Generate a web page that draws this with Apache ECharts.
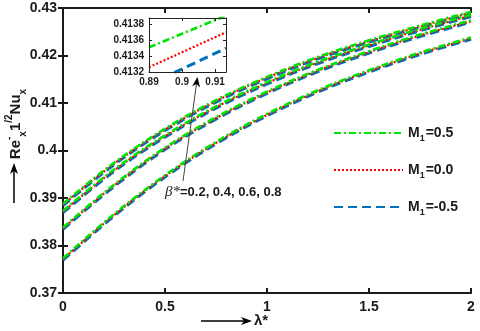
<!DOCTYPE html>
<html><head><meta charset="utf-8">
<script src="https://cdn.jsdelivr.net/npm/echarts@6/dist/echarts.min.js"></script>
<style>html,body{margin:0;padding:0;background:#fff}#c{width:480px;height:331px}</style>
</head><body><div id="c"></div>
<script>
// lambda* values
const X = [0, 0.25, 0.5, 0.75, 1, 1.25, 1.5, 1.75, 2];
const xTicks = [0, 0.5, 1, 1.5, 2];
const yTicks = [0.37, 0.38, 0.39, 0.4, 0.41, 0.42, 0.43];
// beta* = 0.8 (top group)
const b08_pos  = [0.3888, 0.3974, 0.4046, 0.4106, 0.4155, 0.4197, 0.4232, 0.4263, 0.4292];
const b08_zero = [0.3886, 0.3972, 0.4044, 0.4104, 0.4153, 0.4195, 0.4230, 0.4261, 0.4290];
const b08_neg  = [0.3884, 0.3970, 0.4042, 0.4102, 0.4151, 0.4193, 0.4228, 0.4259, 0.4288];
// beta* = 0.6
const b06_pos  = [0.3873, 0.3960, 0.4032, 0.4093, 0.4144, 0.4187, 0.4223, 0.4256, 0.4286];
const b06_zero = [0.3871, 0.3958, 0.4030, 0.4091, 0.4142, 0.4185, 0.4221, 0.4254, 0.4284];
const b06_neg  = [0.3869, 0.3956, 0.4028, 0.4089, 0.4140, 0.4183, 0.4219, 0.4252, 0.4282];
// beta* = 0.4
const b04_pos  = [0.3838, 0.3928, 0.4006, 0.4070, 0.4124, 0.4170, 0.4209, 0.4244, 0.4274];
const b04_zero = [0.3836, 0.3926, 0.4004, 0.4068, 0.4122, 0.4168, 0.4207, 0.4242, 0.4272];
const b04_neg  = [0.3834, 0.3924, 0.4002, 0.4066, 0.4120, 0.4166, 0.4205, 0.4240, 0.4270];
// beta* = 0.2 (bottom group)
const b02_pos  = [0.3773, 0.3866, 0.3948, 0.4018, 0.4077, 0.4127, 0.4169, 0.4206, 0.4238];
const b02_zero = [0.3771, 0.3864, 0.3946, 0.4016, 0.4075, 0.4125, 0.4167, 0.4204, 0.4236];
const b02_neg  = [0.3769, 0.3862, 0.3944, 0.4014, 0.4073, 0.4123, 0.4165, 0.4202, 0.4234];
// inset (zoom near lambda* = 0.9)
const insetX = [0.89, 0.9133];
const inset_pos  = [0.41351, 0.41391];
const inset_zero = [0.41326, 0.41370];
const inset_neg  = [0.41304, 0.41350];
const insetXTicks = [0.89, 0.9, 0.91];
const insetYTicks = [0.4132, 0.4134, 0.4136, 0.4138];

const names = ['M1=0.5', 'M1=0.0', 'M1=-0.5'];
const COL = {pos: '#00e400', zero: '#ff0000', neg: '#0072bd'};
const STY = {
  pos:  {color: COL.pos, width: 2.6, type: [7, 3, 2, 3]},
  zero: {color: COL.zero, width: 2.2, type: [2, 2]},
  neg:  {color: COL.neg, width: 3, type: [9, 5]}
};
const NAME = {pos: names[0], zero: names[1], neg: names[2]};

const F = 'Liberation Sans, Arial, sans-serif';
const series = [];
function addLine(kind, data, xi, yi, xs, z) {
  series.push({
    type: 'line', name: NAME[kind], xAxisIndex: xi, yAxisIndex: yi, z: z,
    data: xs.map((x, i) => [x, data[i]]), smooth: 0.35, symbol: 'none', showSymbol: false,
    lineStyle: Object.assign({}, STY[kind]), itemStyle: {color: STY[kind].color},
    silent: true, animation: false, clip: true
  });
}
const groups = [[b02_pos, b02_zero, b02_neg], [b04_pos, b04_zero, b04_neg], [b06_pos, b06_zero, b06_neg], [b08_pos, b08_zero, b08_neg]];
groups.forEach(g => addLine('neg', g[2], 0, 0, X, 2));
groups.forEach(g => addLine('zero', g[1], 0, 0, X, 3));
groups.forEach(g => addLine('pos', g[0], 0, 0, X, 4));
addLine('neg', inset_neg, 2, 2, insetX, 12);
addLine('zero', inset_zero, 2, 2, insetX, 13);
addLine('pos', inset_pos, 2, 2, insetX, 14);

const axLine = {lineStyle: {color: '#1a1a1a', width: 2}};
const tick = {inside: true, length: 5, lineStyle: {color: '#1a1a1a', width: 2}};
const lbl = {color: '#1a1a1a', fontFamily: F, fontWeight: 'bold', fontSize: 14};
const iLine = {onZero: false, lineStyle: {color: '#222', width: 1}};
const iTick = {inside: true, length: 3, lineStyle: {color: '#222'}};

const option = {
  animation: false,
  backgroundColor: '#fff',
  grid: [
    {left: 63, right: 9, top: 8, bottom: 38},
    {left: 63, right: 9, top: 8, bottom: 38},
    {left: 149, top: 18, width: 77, height: 54, backgroundColor: '#fff', show: true, borderWidth: 0, z: 8}
  ],
  xAxis: [
    {type: 'value', gridIndex: 0, min: 0, max: 2, interval: 0.5, position: 'bottom',
     axisLine: axLine, axisTick: tick, splitLine: {show: false},
     axisLabel: Object.assign({margin: 7, formatter: v => String(+v.toFixed(2))}, lbl)},
    {type: 'value', gridIndex: 1, min: 0, max: 2, interval: 0.5, position: 'top',
     axisLine: axLine, axisTick: tick, splitLine: {show: false}, axisLabel: {show: false}},
    {type: 'value', gridIndex: 2, min: 0.89, max: 0.9133, interval: 0.01, position: 'bottom', z: 15,
     axisLine: iLine, axisTick: iTick, splitLine: {show: false},
     axisLabel: {margin: 5, showMaxLabel: false, color: '#1a1a1a', fontFamily: F, fontWeight: 'bold', fontSize: 10,
       formatter: v => String(+v.toFixed(2))}},
    {type: 'value', gridIndex: 2, min: 0.89, max: 0.9133, interval: 0.01, position: 'top', z: 15,
     axisLine: iLine, axisTick: iTick, splitLine: {show: false}, axisLabel: {show: false}}
  ],
  yAxis: [
    {type: 'value', gridIndex: 0, min: 0.37, max: 0.43, interval: 0.01, position: 'left',
     axisLine: axLine, axisTick: tick, splitLine: {show: false},
     axisLabel: Object.assign({margin: 6, formatter: v => String(+v.toFixed(2))}, lbl)},
    {type: 'value', gridIndex: 1, min: 0.37, max: 0.43, interval: 0.01, position: 'right',
     axisLine: axLine, axisTick: tick, splitLine: {show: false}, axisLabel: {show: false}},
    {type: 'value', gridIndex: 2, min: 0.4132, max: 0.41388, interval: 0.0002, position: 'left', z: 15,
     axisLine: iLine, axisTick: iTick, splitLine: {show: false},
     axisLabel: {margin: 5, showMaxLabel: false, color: '#1a1a1a', fontFamily: F, fontWeight: 'bold', fontSize: 10,
       formatter: v => v.toFixed(4)}},
    {type: 'value', gridIndex: 2, min: 0.4132, max: 0.41388, interval: 0.0002, position: 'right', z: 15,
     axisLine: iLine, axisTick: iTick, splitLine: {show: false}, axisLabel: {show: false}}
  ],
  legend: {
    data: names, orient: 'vertical', left: 328, top: 121, itemWidth: 69, itemHeight: 14, itemGap: 20,
    itemStyle: {opacity: 0},
    formatter: n => '{b|M}{s|1}{b|' + n.slice(2) + '}',
    textStyle: {
      rich: {
        b: {fontFamily: F, fontWeight: 'bold', fontSize: 14, color: '#1a1a1a', lineHeight: 20, verticalAlign: 'middle'},
        s: {fontFamily: F, fontWeight: 'bold', fontSize: 9, color: '#1a1a1a', lineHeight: 20, verticalAlign: 'bottom', padding: [0, 1, 0, 0]}
      }
    }
  },
  series: series,
  graphic: [
    // y-axis title arrow
    {type: 'line', shape: {x1: 14, y1: 203, x2: 14, y2: 170}, style: {stroke: '#000', lineWidth: 1.5}, z: 20},
    {type: 'polygon', shape: {points: [[14, 163], [10, 174], [14, 171], [18, 174]]}, style: {fill: '#000'}, z: 20},
    {type: 'text', x: 16, y: 124, rotation: Math.PI / 2, z: 20,
     style: {text: '{n|Re}{sup|-}{sub|x}{n|1}{sup|/2}{n|Nu}{sub|x}', align: 'center', verticalAlign: 'middle',
       rich: {
         n: {fontFamily: F, fontWeight: 'bold', fontSize: 15, fill: '#1a1a1a', lineHeight: 24, verticalAlign: 'middle'},
         sup: {fontFamily: F, fontWeight: 'bold', fontSize: 10, fill: '#1a1a1a', lineHeight: 24, verticalAlign: 'top'},
         sub: {fontFamily: F, fontWeight: 'bold', fontSize: 10, fill: '#1a1a1a', lineHeight: 24, verticalAlign: 'bottom'}
       }}},
    // x-axis title arrow
    {type: 'line', shape: {x1: 201, y1: 321, x2: 246, y2: 321}, style: {stroke: '#000', lineWidth: 1.5}, z: 20},
    {type: 'polygon', shape: {points: [[252, 321], [241, 317], [244, 321], [241, 325]]}, style: {fill: '#000'}, z: 20},
    {type: 'text', x: 254, y: 321, z: 20,
     style: {text: 'λ*', fontFamily: F, fontWeight: 'bold', fontSize: 15, fill: '#1a1a1a', verticalAlign: 'middle'}},
    // annotation
    {type: 'line', shape: {x1: 183, y1: 181, x2: 196.5, y2: 84}, style: {stroke: '#444', lineWidth: 1}, z: 20},
    {type: 'polygon', shape: {points: [[197.5, 77], [200.1, 87.5], [196.5, 84], [192.1, 86.3]]}, style: {fill: '#000'}, z: 20},
    {type: 'text', x: 165, y: 192, z: 20,
     style: {text: '{g|β*}{b|=0.2, 0.4, 0.6, 0.8}', verticalAlign: 'middle',
       rich: {
         g: {fontFamily: 'Liberation Serif, serif', fontStyle: 'italic', fontSize: 15, fill: '#1a1a1a'},
         b: {fontFamily: F, fontWeight: 'bold', fontSize: 13, fill: '#1a1a1a'}
       }}}
  ]
};
const chart = echarts.init(document.getElementById('c'), null, {renderer: 'canvas'});
chart.setOption(option);
</script>
</body></html>
